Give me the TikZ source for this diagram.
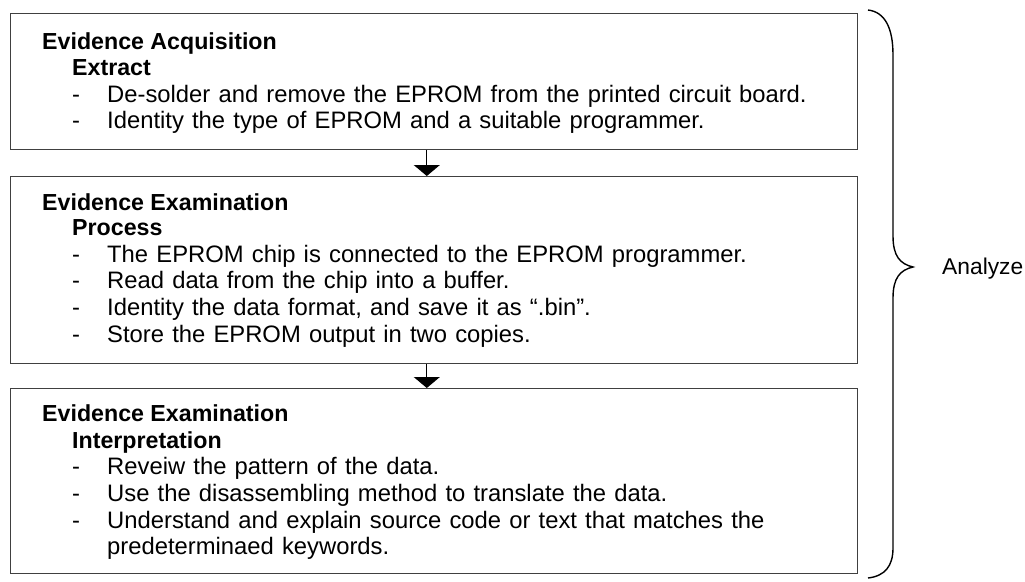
\documentclass[tikz,border=0pt]{standalone}
\usepackage{fontspec}
\setmainfont{Liberation Sans}
\usetikzlibrary{arrows.meta}
% slightly wider word spacing for the list items
\newcommand\itemspacing{\spaceskip=8.2pt\relax}
\begin{document}
\begin{tikzpicture}[x=1pt,y=-1pt,
  stagebox/.style={draw=black!75,line width=1.1pt,rectangle,inner sep=0pt,anchor=north west},
  txt/.style={anchor=base west,inner sep=0pt,font=\fontsize{23.8}{27}\selectfont\itemspacing},
  hdr/.style={anchor=base west,inner sep=0pt,font=\fontsize{23.2}{27}\selectfont\bfseries},
  side/.style={anchor=base west,inner sep=0pt,font=\fontsize{22.8}{27}\selectfont},
  flow/.style={draw=black,line width=1.1pt,-{Triangle[width=26pt,length=11pt]}},
  brace/.style={draw=black,line width=1.4pt}]
\useasboundingbox (0,0) rectangle (1025,581);

% stage boxes
\node[stagebox,minimum width=847.5pt,minimum height=136pt] (b1) at (9.5,13) {};
\node[stagebox,minimum width=847.5pt,minimum height=187pt] (b2) at (9.5,176) {};
\node[stagebox,minimum width=847.5pt,minimum height=185pt] (b3) at (9.5,388) {};

% flow between stages
\draw[flow] ([xshift=-7pt]b1.south) -- ([xshift=-7pt]b2.north);
\draw[flow] ([xshift=-7pt]b2.south) -- ([xshift=-7pt]b3.north);

% stage 1
\node[hdr] (h1) at (42,49) {Evidence Acquisition};
\node[hdr] (s1) at (72,75) {Extract};
\node[txt] (d11) at (72,102) {-};
\node[txt] (t11) at (107,102) {De-solder and remove the EPROM from the printed circuit board.};
\node[txt] (d12) at (72,128) {-};
\node[txt] (t12) at (107,128) {Identity the type of EPROM and a suitable programmer.};

% stage 2
\node[hdr] (h2) at (42,210) {Evidence Examination};
\node[hdr] (s2) at (72,235) {Process};
\node[txt] (d21) at (72,262) {-};
\node[txt] (t21) at (107,262) {The EPROM chip is connected to the EPROM programmer.};
\node[txt] (d22) at (72,288) {-};
\node[txt] (t22) at (107,288) {Read data from the chip into a buffer.};
\node[txt] (d23) at (72,315) {-};
\node[txt] (t23) at (107,315) {Identity the data format, and save it as “.bin”.};
\node[txt] (d24) at (72,342) {-};
\node[txt] (t24) at (107,342) {Store the EPROM output in two copies.};

% stage 3
\node[hdr] (h3) at (42,421) {Evidence Examination};
\node[hdr] (s3) at (72,448) {Interpretation};
\node[txt] (d31) at (72,474) {-};
\node[txt] (t31) at (107,474) {Reveiw the pattern of the data.};
\node[txt] (d32) at (72,501) {-};
\node[txt] (t32) at (107,501) {Use the disassembling method to translate the data.};
\node[txt] (d33) at (72,528) {-};
\node[txt] (t33) at (107,528) {Understand and explain source code or text that matches the};
\node[txt] (t34) at (107,554) {predeterminaed keywords.};

% curly brace spanning all stages
\coordinate (bt) at (868,10);
\coordinate (bm) at (913,267);
\coordinate (bb) at (868,578);
\draw[brace] (bt) .. controls (885,12) and (893,28) .. (893,55)
  -- (893,236) .. controls (893,256) and (900,264) .. (bm)
  .. controls (900,270) and (893,278) .. (893,298)
  -- (893,548) .. controls (893,566) and (885,576) .. (bb);
\node[side] (lab) at (942,274) {Analyze};
\end{tikzpicture}
\end{document}
